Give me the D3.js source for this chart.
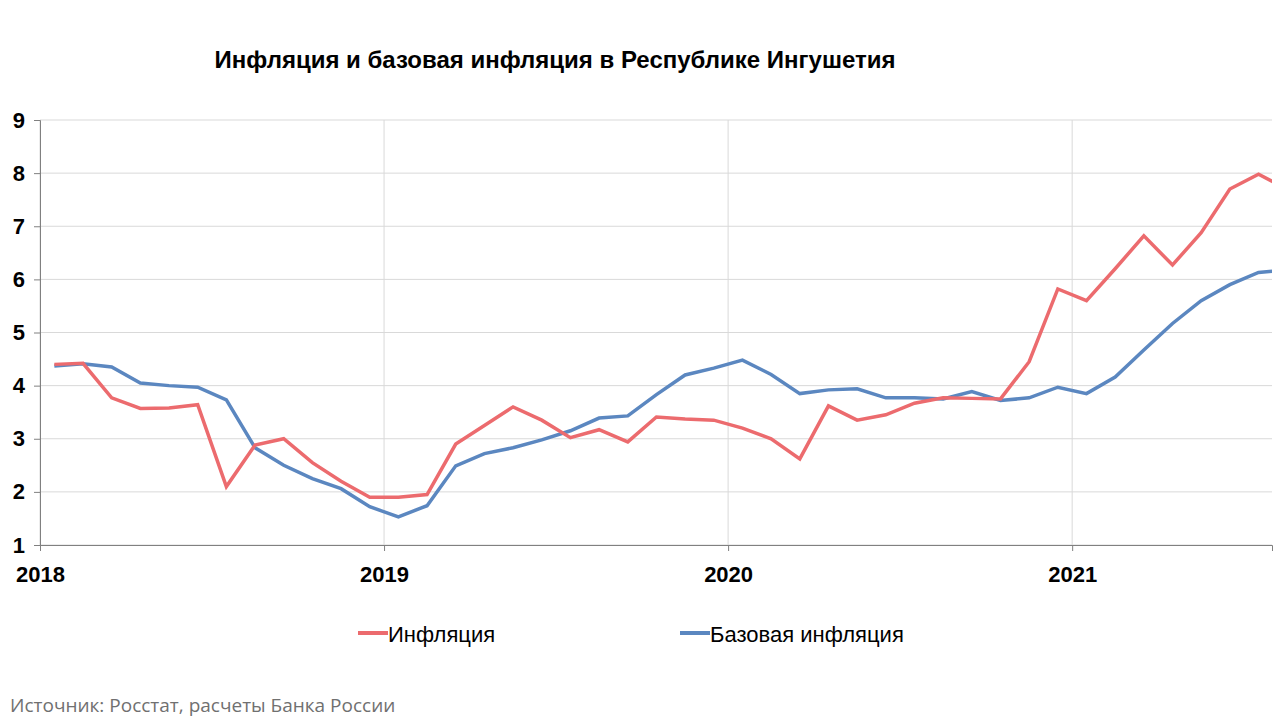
<!DOCTYPE html><html><head><meta charset="utf-8">
<script src="https://cdn.jsdelivr.net/npm/d3@7"></script>
<style>body{margin:0;background:#fff}svg{font-family:Arial,"Liberation Sans",sans-serif}</style></head><body>
<svg id="c" width="1280" height="720"></svg>
<script>
const years=["2018","2019","2020","2021"];
const yTicks=[1,2,3,4,5,6,7,8,9];
const inflation=[4.4,4.42,3.77,3.57,3.58,3.64,2.1,2.88,3.0,2.55,2.2,1.9,1.9,1.95,2.9,3.25,3.6,3.35,3.02,3.17,2.94,3.41,3.37,3.35,3.2,3.0,2.62,3.62,3.35,3.45,3.67,3.77,3.76,3.75,4.45,5.82,5.6,6.2,6.82,6.27,6.88,7.7,7.98,7.7];
const core=[4.37,4.41,4.35,4.05,4.0,3.97,3.73,2.83,2.5,2.25,2.06,1.72,1.53,1.74,2.49,2.72,2.83,2.98,3.15,3.39,3.43,3.83,4.2,4.33,4.48,4.21,3.85,3.92,3.94,3.77,3.77,3.75,3.89,3.72,3.77,3.97,3.85,4.16,4.67,5.17,5.6,5.9,6.13,6.18];
const svg=d3.select("#c");
const L=40,R=1272,T=120,B=545;
const x=d3.scaleLinear().domain([0,42.97]).range([L,R]);
const y=d3.scaleLinear().domain([1,9]).range([B,T]);
svg.append("text").attr("x",555).attr("y",68).attr("text-anchor","middle").attr("font-weight","bold").attr("font-size",24).text("Инфляция и базовая инфляция в Республике Ингушетия");
svg.append("g").selectAll("line").data(yTicks).join("line").attr("x1",L).attr("x2",R).attr("y1",d=>y(d)).attr("y2",d=>y(d)).attr("stroke","#d9d9d9");
svg.append("g").selectAll("line").data(years).join("line").attr("x1",(d,i)=>x(i*12)).attr("x2",(d,i)=>x(i*12)).attr("y1",T).attr("y2",B).attr("stroke","#d9d9d9");
svg.append("g").attr("transform",`translate(${L},0)`).call(d3.axisLeft(y).tickValues(yTicks).tickSize(6).tickFormat(d3.format("d")))
 .call(g=>{g.select(".domain").attr("stroke","#808080");g.selectAll(".tick line").attr("stroke","#808080");g.selectAll("text").attr("font-size",22).attr("font-weight","bold").attr("font-family","Arial,Liberation Sans").attr("x",-15).attr("fill","#000");});
svg.append("g").attr("transform",`translate(0,${B})`).call(d3.axisBottom(x).tickValues([0,12,24,36]).tickSize(6).tickFormat((d,i)=>years[i]))
 .call(g=>{g.select(".domain").attr("stroke","#808080");g.selectAll(".tick line").attr("stroke","#808080");g.selectAll("text").attr("font-size",22).attr("font-weight","bold").attr("font-family","Arial,Liberation Sans").attr("dy","1.25em").attr("fill","#000");});
svg.append("clipPath").attr("id","cl").append("rect").attr("x",L).attr("y",0).attr("width",R-L).attr("height",720);
const line=d3.line().x((d,i)=>x(i+0.5)).y(d=>y(d));
const g=svg.append("g").attr("clip-path","url(#cl)");
g.append("path").datum(core).attr("d",line).attr("fill","none").attr("stroke","#5b87c0").attr("stroke-width",3.5);
g.append("path").datum(inflation).attr("d",line).attr("fill","none").attr("stroke","#ec6b6e").attr("stroke-width",3.5);
const leg=[["Инфляция","#ec6b6e",358],["Базовая инфляция","#5b87c0",680]];
leg.forEach(([t,c,lx])=>{svg.append("line").attr("x1",lx).attr("x2",lx+30).attr("y1",633).attr("y2",633).attr("stroke",c).attr("stroke-width",4);
 svg.append("text").attr("x",lx+30).attr("y",642).attr("font-size",22).text(t);});
svg.append("text").attr("x",10).attr("y",712).attr("font-size",19).attr("fill","#707070").attr("font-family","Open Sans,sans-serif").text("Источник: Росстат, расчеты Банка России");
</script></body></html>
